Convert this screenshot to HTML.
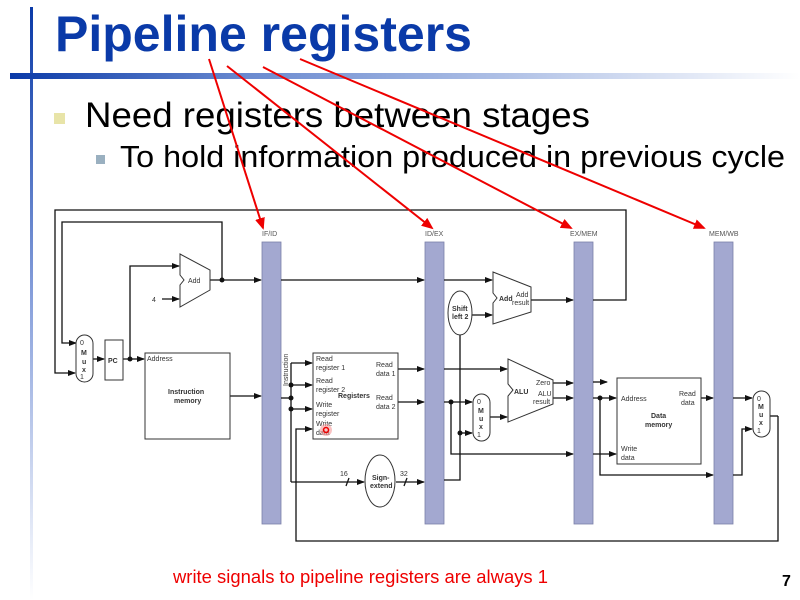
<!DOCTYPE html>
<html><head><meta charset="utf-8"><style>
html,body{margin:0;padding:0;background:#fff;}
svg{display:block;font-family:"Liberation Sans",Arial,sans-serif;}
</style></head><body>
<svg width="800" height="600" viewBox="0 0 800 600" xmlns="http://www.w3.org/2000/svg">
<defs>
<linearGradient id="hb" x1="0" x2="1" y1="0" y2="0">
<stop offset="0" stop-color="#0a3aa8"/><stop offset="0.3" stop-color="#6a8ad0"/><stop offset="1" stop-color="#ffffff"/>
</linearGradient>
<linearGradient id="vb" x1="0" x2="0" y1="0" y2="1">
<stop offset="0" stop-color="#0a3aa8"/><stop offset="0.5" stop-color="#8aa2dc"/><stop offset="1" stop-color="#ffffff"/>
</linearGradient>
<marker id="a" markerWidth="8" markerHeight="6" refX="7" refY="3" orient="auto" markerUnits="userSpaceOnUse"><path d="M0,0 L8,3 L0,6 z" fill="#111"/></marker>
<marker id="r" markerWidth="12" markerHeight="10" refX="10" refY="5" orient="auto" markerUnits="userSpaceOnUse"><path d="M0,0 L12,5 L0,10 z" fill="#e00"/></marker>
</defs>
<!-- header -->
<rect x="30" y="7" width="3" height="593" fill="url(#vb)"/>
<rect x="10" y="73" width="790" height="6" fill="url(#hb)"/>
<text x="55" y="51" font-size="50" font-weight="bold" fill="#0a3aa8" textLength="417" lengthAdjust="spacingAndGlyphs">Pipeline registers</text>
<rect x="54" y="113" width="11" height="11" fill="#e8e4a8"/>
<text x="85" y="127" font-size="35" fill="#000" textLength="505" lengthAdjust="spacingAndGlyphs">Need registers between stages</text>
<rect x="96" y="155" width="9" height="9" fill="#9ab0c0"/>
<text x="120" y="167" font-size="31" fill="#000" textLength="665" lengthAdjust="spacingAndGlyphs">To hold information produced in previous cycle</text>

<!-- pipeline bars -->
<g fill="#a3a8d0" stroke="#7a7fa8" stroke-width="0.8">
<rect x="262" y="242" width="19" height="282"/>
<rect x="425" y="242" width="19" height="282"/>
<rect x="574" y="242" width="19" height="282"/>
<rect x="714" y="242" width="19" height="282"/>
</g>
<g font-size="7" fill="#555">
<text x="262" y="236">IF/ID</text><text x="425" y="236">ID/EX</text><text x="570" y="236">EX/MEM</text><text x="709" y="236">MEM/WB</text>
</g>

<g stroke="#111" stroke-width="1.3" fill="none">
<polyline points="593,300 626,300 626,210 55,210 55,373 75,373" marker-end="url(#a)"/>
<polyline points="222,280 222,222 62,222 62,343 76,343" marker-end="url(#a)"/>
<line x1="210" y1="280" x2="261" y2="280" marker-end="url(#a)"/>
<line x1="93" y1="359" x2="104" y2="359" marker-end="url(#a)"/>
<polyline points="123,359 130,359 130,266 179,266" marker-end="url(#a)"/>
<line x1="130" y1="359" x2="144" y2="359" marker-end="url(#a)"/>
<line x1="162" y1="299" x2="179" y2="299" marker-end="url(#a)"/>
<line x1="230" y1="396" x2="261" y2="396" marker-end="url(#a)"/>
<line x1="281" y1="280" x2="424" y2="280" marker-end="url(#a)"/>
<polyline points="281,398 291,398"/>
<line x1="291" y1="363" x2="291" y2="482"/>
<line x1="291" y1="363" x2="312" y2="363" marker-end="url(#a)"/>
<line x1="291" y1="385" x2="312" y2="385" marker-end="url(#a)"/>
<line x1="291" y1="409" x2="312" y2="409" marker-end="url(#a)"/>
<polyline points="778,416 778,541 296,541 296,429 312,429" marker-end="url(#a)"/>
<line x1="291" y1="482" x2="364" y2="482" marker-end="url(#a)"/>
<line x1="396" y1="482" x2="424" y2="482" marker-end="url(#a)"/>
<line x1="398" y1="369" x2="424" y2="369" marker-end="url(#a)"/>
<line x1="398" y1="402" x2="424" y2="402" marker-end="url(#a)"/>
<line x1="444" y1="280" x2="492" y2="280" marker-end="url(#a)"/>
<polyline points="444,480 460,480 460,335"/>
<line x1="472" y1="315" x2="492" y2="315" marker-end="url(#a)"/>
<line x1="531" y1="300" x2="573" y2="300" marker-end="url(#a)"/>
<line x1="444" y1="369" x2="507" y2="369" marker-end="url(#a)"/>
<line x1="444" y1="402" x2="472" y2="402" marker-end="url(#a)"/>
<polyline points="451,402 451,454 573,454" marker-end="url(#a)"/>
<line x1="460" y1="433" x2="472" y2="433" marker-end="url(#a)"/>
<line x1="490" y1="417" x2="507" y2="417" marker-end="url(#a)"/>
<line x1="553" y1="383" x2="573" y2="383" marker-end="url(#a)"/>
<line x1="553" y1="398" x2="573" y2="398" marker-end="url(#a)"/>
<line x1="593" y1="382" x2="607" y2="382" marker-end="url(#a)"/>
<line x1="593" y1="398" x2="616" y2="398" marker-end="url(#a)"/>
<polyline points="600,398 600,475 713,475" marker-end="url(#a)"/>
<line x1="593" y1="454" x2="616" y2="454" marker-end="url(#a)"/>
<line x1="701" y1="398" x2="713" y2="398" marker-end="url(#a)"/>
<line x1="733" y1="398" x2="752" y2="398" marker-end="url(#a)"/>
<polyline points="733,475 742,475 742,429 752,429" marker-end="url(#a)"/>
<line x1="770" y1="416" x2="778" y2="416"/>
<line x1="346" y1="486" x2="349" y2="478"/>
<line x1="404" y1="486" x2="407" y2="478"/>
</g>
<g fill="#111">
<circle cx="222" cy="280" r="2.5"/><circle cx="130" cy="359" r="2.5"/>
<circle cx="291" cy="398" r="2.5"/><circle cx="291" cy="385" r="2.5"/><circle cx="291" cy="409" r="2.5"/>
<circle cx="451" cy="402" r="2.5"/><circle cx="460" cy="433" r="2.5"/><circle cx="600" cy="398" r="2.5"/>
</g>

<g stroke="#333" stroke-width="1" fill="#fff">
<rect x="76" y="335" width="17" height="47" rx="8.5"/>
<rect x="105" y="340" width="18" height="40"/>
<rect x="145" y="353" width="85" height="86"/>
<rect x="313" y="353" width="85" height="86"/>
<ellipse cx="380" cy="481" rx="15" ry="26"/>
<polygon points="180,254 210,270 210,290 180,307 180,285 184,280 180,275"/>
<polygon points="493,272 531,287 531,312 493,324 493,303 497,298 493,293"/>
<ellipse cx="460" cy="313" rx="12" ry="22"/>
<polygon points="508,359 553,380 553,404 508,422 508,396 513,390 508,384"/>
<rect x="473" y="394" width="17" height="47" rx="8.5"/>
<rect x="617" y="378" width="84" height="86"/>
<rect x="753" y="391" width="17" height="46" rx="8.5"/>
</g>
<g font-size="7" fill="#333">
<text x="80" y="345">0</text><text x="81" y="355" font-weight="bold">M</text><text x="82" y="364" font-weight="bold">u</text><text x="82" y="372" font-weight="bold">x</text><text x="80" y="379">1</text>
<text x="108" y="363" font-weight="bold">PC</text>
<text x="147" y="361">Address</text>
<text x="168" y="394" font-weight="bold">Instruction</text><text x="174" y="403" font-weight="bold">memory</text>
<text x="188" y="283">Add</text><text x="152" y="302">4</text>
<text x="288" y="386" transform="rotate(-90 288 386)">Instruction</text>
<text x="316" y="361">Read</text><text x="316" y="370">register 1</text>
<text x="316" y="383">Read</text><text x="316" y="392">register 2</text>
<text x="316" y="407">Write</text><text x="316" y="416">register</text>
<text x="316" y="426">Write</text><text x="316" y="435">data</text>
<text x="338" y="398" font-weight="bold">Registers</text>
<text x="376" y="367">Read</text><text x="376" y="376">data 1</text>
<text x="376" y="400">Read</text><text x="376" y="409">data 2</text>
<text x="372" y="480" font-weight="bold">Sign-</text><text x="370" y="488" font-weight="bold">extend</text>
<text x="340" y="476">16</text><text x="400" y="476">32</text>
<text x="452" y="311" font-weight="bold">Shift</text><text x="452" y="319" font-weight="bold">left 2</text>
<text x="499" y="301" font-weight="bold">Add</text><text x="516" y="297">Add</text><text x="512" y="305">result</text>
<text x="514" y="394" font-weight="bold">ALU</text>
<text x="536" y="385">Zero</text><text x="538" y="396">ALU</text><text x="533" y="404">result</text>
<text x="477" y="404">0</text><text x="478" y="413" font-weight="bold">M</text><text x="479" y="421" font-weight="bold">u</text><text x="479" y="429" font-weight="bold">x</text><text x="477" y="437">1</text>
<text x="621" y="401">Address</text>
<text x="651" y="418" font-weight="bold">Data</text><text x="645" y="427" font-weight="bold">memory</text>
<text x="679" y="396">Read</text><text x="681" y="405">data</text>
<text x="621" y="451">Write</text><text x="621" y="460">data</text>
<text x="757" y="401">0</text><text x="758" y="409" font-weight="bold">M</text><text x="759" y="417" font-weight="bold">u</text><text x="759" y="425" font-weight="bold">x</text><text x="757" y="433">1</text>
</g>
<circle cx="326" cy="430" r="6" fill="#f59a9a" opacity="0.6"/><circle cx="326" cy="430" r="2.5" fill="none" stroke="#e00" stroke-width="1.5"/>

<g stroke="#e00" stroke-width="2" fill="none">
<line x1="209" y1="59" x2="263" y2="228" marker-end="url(#r)"/>
<line x1="227" y1="66" x2="432" y2="228" marker-end="url(#r)"/>
<line x1="263" y1="67" x2="571" y2="228" marker-end="url(#r)"/>
<line x1="300" y1="59" x2="704" y2="228" marker-end="url(#r)"/>
</g>

<text x="173" y="583" font-size="18" fill="#e00" textLength="375" lengthAdjust="spacingAndGlyphs">write signals to pipeline registers are always 1</text>
<text x="782" y="586" font-size="16" font-weight="bold" fill="#000">7</text>
</svg>
</body></html>
